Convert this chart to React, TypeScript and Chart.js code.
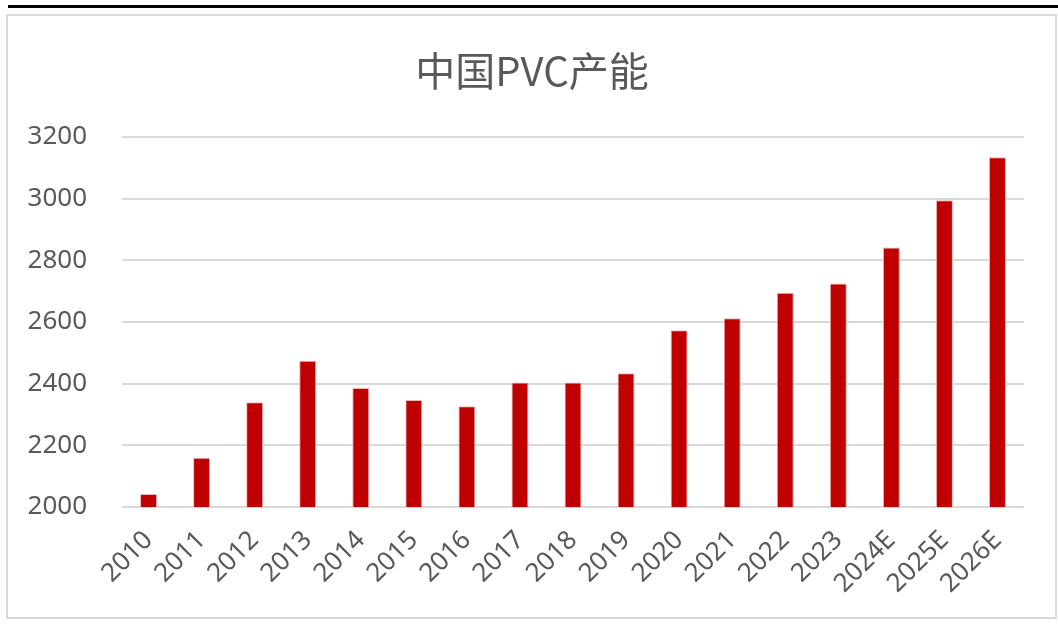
import React, { useEffect, useRef } from "react";
import { Chart, registerables } from "chart.js";

Chart.register(...registerables);

const categories = [
  "2010", "2011", "2012", "2013", "2014", "2015", "2016", "2017", "2018",
  "2019", "2020", "2021", "2022", "2023", "2024E", "2025E", "2026E",
];
const capacity = [
  2042, 2160, 2340, 2474, 2386, 2347, 2327, 2404, 2404,
  2434, 2573, 2612, 2695, 2725, 2842, 2995, 3134,
];
const yMin = 2000;
const yMax = 3200;
const yStep = 200;
const titleText = "中国PVC产能";

const centeredTitle = {
  id: "centeredTitle",
  afterDraw(chart: any) {
    const ctx = chart.ctx;
    ctx.save();
    ctx.font = "normal 40px 'Noto Sans CJK SC', 'Noto Sans', sans-serif";
    ctx.fillStyle = "#595959";
    ctx.textAlign = "center";
    ctx.textBaseline = "middle";
    ctx.fillText(titleText, chart.width / 2 + 3, 71);
    ctx.restore();
  },
};

export default function App() {
  const ref = useRef<HTMLCanvasElement | null>(null);

  useEffect(() => {
    if (!ref.current) return;
    const chart = new Chart(ref.current, {
      type: "bar",
      data: {
        labels: categories,
        datasets: [
          {
            data: capacity,
            backgroundColor: "#c00000",
            borderColor: "#eeb3b3",
            borderWidth: 1,
            categoryPercentage: 1,
            barPercentage: 0.32,
          },
        ],
      },
      plugins: [centeredTitle],
      options: {
        animation: false,
        responsive: false,
        maintainAspectRatio: false,
        layout: { padding: { left: 0, right: 34, top: 137, bottom: 0 } },
        plugins: {
          legend: { display: false },
          tooltip: { enabled: false },
          title: { display: false },
        },
        scales: {
          x: {
            grid: { display: false, drawTicks: false },
            border: { display: false },
            ticks: {
              color: "#595959",
              font: { family: "'Noto Sans', sans-serif", size: 26 },
              minRotation: 45,
              maxRotation: 45,
              autoSkip: false,
              padding: 18,
            },
            afterFit: (scale: any) => {
              scale.height = 130;
            },
          },
          y: {
            min: yMin,
            max: yMax,
            grid: { color: "#d9d9d9", lineWidth: 2, drawTicks: false },
            border: { display: false },
            ticks: {
              stepSize: yStep,
              color: "#595959",
              font: { family: "'Noto Sans', sans-serif", size: 26 },
              padding: 35,
              callback: (v: any) => String(v),
            },
            afterFit: (scale: any) => {
              scale.width = 122;
            },
          },
        },
      },
    });
    return () => chart.destroy();
  }, []);

  return (
    <div
      style={{
        position: "absolute",
        left: 0,
        top: 0,
        width: 1058,
        height: 637,
        background: "#ffffff",
        overflow: "hidden",
      }}
    >
      <div
        style={{
          position: "absolute",
          left: 8,
          right: 0,
          top: 5,
          height: 3,
          background: "#000000",
        }}
      />
      <div
        style={{
          position: "absolute",
          left: 6,
          top: 14,
          width: 1051,
          height: 605,
          border: "2px solid #d9d9d9",
          boxSizing: "border-box",
        }}
      />
      <canvas
        ref={ref}
        width={1058}
        height={637}
        style={{ position: "absolute", left: 0, top: 0, width: 1058, height: 637 }}
      />
    </div>
  );
}
